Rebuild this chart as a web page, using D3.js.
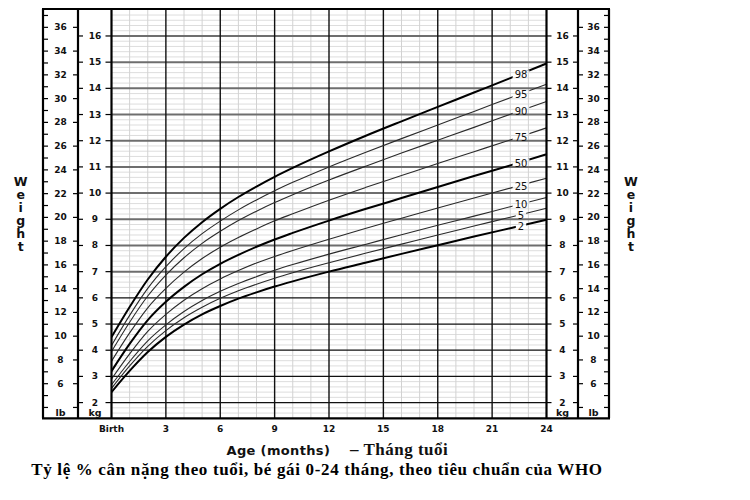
<!DOCTYPE html>
<html><head><meta charset="utf-8">
<script src="https://cdn.jsdelivr.net/npm/d3@7"></script>
<style>body{margin:0;background:#fff}svg{display:block}
.vert{writing-mode:vertical-rl;text-orientation:upright;}</style>
</head><body><svg id="c" width="750" height="500"></svg>
<script>
// ---- data ----
const months = [0,1,2,3,4,5,6,7,8,9,10,12,14,16,18,20,22,24];
const percentileNames = ["2","5","10","25","50","75","90","95","98"];
const p2  = [2.40,3.21,3.93,4.51,4.98,5.37,5.69,5.97,6.21,6.43,6.63,7.00,7.34,7.68,8.01,8.34,8.66,8.98];
const p5  = [2.54,3.40,4.15,4.75,5.24,5.64,5.98,6.27,6.52,6.75,6.96,7.34,7.70,8.05,8.40,8.74,9.08,9.42];
const p10 = [2.68,3.57,4.36,4.97,5.48,5.90,6.25,6.55,6.81,7.05,7.27,7.67,8.04,8.41,8.77,9.12,9.48,9.83];
const p25 = [2.90,3.86,4.72,5.37,5.91,6.35,6.72,7.04,7.33,7.58,7.81,8.24,8.65,9.04,9.43,9.81,10.19,10.57];
const p50 = [3.20,4.24,5.15,5.85,6.42,6.90,7.30,7.64,7.95,8.23,8.48,8.95,9.39,9.81,10.23,10.65,11.06,11.48];
const p75 = [3.58,4.66,5.62,6.36,6.98,7.50,7.93,8.30,8.63,8.94,9.21,9.73,10.21,10.67,11.13,11.58,12.03,12.49];
const p90 = [3.95,5.07,6.07,6.87,7.53,8.08,8.54,8.95,9.31,9.64,9.94,10.50,11.02,11.53,12.02,12.51,13.01,13.50];
const p95 = [4.18,5.33,6.36,7.19,7.88,8.45,8.93,9.36,9.74,10.09,10.41,11.00,11.55,12.08,12.60,13.12,13.64,14.16];
const p98 = [4.50,5.65,6.70,7.57,8.29,8.89,9.40,9.85,10.25,10.62,10.96,11.59,12.18,12.74,13.29,13.84,14.39,14.95];
const seriesValues = [p2,p5,p10,p25,p50,p75,p90,p95,p98];
const boldSeries = ["2","50","98"];

const kgTicks = [2,3,4,5,6,7,8,9,10,11,12,13,14,15,16];
const lbTickLabels = [6,8,10,12,14,16,18,20,22,24,26,28,30,32,34,36];
const monthTicks = [0,3,6,9,12,15,18,21,24];
const monthTickLabels = ["Birth","3","6","9","12","15","18","21","24"];
const xTitleEn = "Age (months)";
const xTitleVi = "– Tháng tuổi";
const yTitle = "Weight";
const chartTitle = "Tỷ lệ % cân nặng theo tuổi, bé gái 0-24 tháng, theo tiêu chuẩn của WHO";

// ---- layout ----
const X0=111.5, X1=546.5, Y0=418.3, Y1=9;
const LB_L=43, KG_L=78, KG_R=578, LB_R=609;
const x = d3.scaleLinear().domain([0,24]).range([X0,X1]);
const y = d3.scaleLinear().domain([1.4,17.03]).range([Y0,Y1]);
const LB2KG = 1/2.20462;
const yLb = lb => y(lb*LB2KG);
const sans = "'DejaVu Sans', Verdana, sans-serif";
const serif = "'Liberation Serif', 'Times New Roman', serif";

const svg = d3.select("#c");
svg.append("rect").attr("width",750).attr("height",500).attr("fill","#fff");

const grid = svg.append("g");
const minorH = d3.range(16,171,2).map(v=>v/10).filter(v=>Math.abs(v-Math.round(v))>1e-6);
grid.selectAll(".mh").data(minorH).enter().append("line")
  .attr("x1",X0).attr("x2",X1).attr("y1",d=>y(d)).attr("y2",d=>y(d))
  .attr("stroke","#dddddd").attr("stroke-width",1);
const minorV = d3.range(1,24).filter(m=>m%3!==0);
grid.selectAll(".mv").data(minorV).enter().append("line")
  .attr("x1",d=>x(d)).attr("x2",d=>x(d)).attr("y1",Y1).attr("y2",Y0)
  .attr("stroke","#d2d2d2").attr("stroke-width",1);
grid.selectAll(".MH").data(kgTicks).enter().append("line")
  .attr("x1",X0).attr("x2",X1).attr("y1",d=>y(d)).attr("y2",d=>y(d))
  .attr("stroke",d=>d<=6?"#111":"#6e6e6e").attr("stroke-width",d=>d<=6?1.3:2);
grid.selectAll(".MV").data(monthTicks.filter(m=>m>0&&m<24)).enter().append("line")
  .attr("x1",d=>x(d)).attr("x2",d=>x(d)).attr("y1",Y1).attr("y2",Y0)
  .attr("stroke","#111").attr("stroke-width",1.4);

// ---- curves ----
const labelMonth = (521-X0)/((X1-X0)/24);
function valueAt(arr,m){
  const i = Math.min(d3.bisectRight(months,m),months.length-1);
  const a=months[i-1], b=months[i];
  return arr[i-1]+(arr[i]-arr[i-1])*(m-a)/(b-a);
}
const labels = percentileNames.map((n,i)=>({name:n, yv:y(valueAt(seriesValues[i],labelMonth))+1}));

const defs = svg.append("defs");
const mask = defs.append("mask").attr("id","gapmask").attr("maskUnits","userSpaceOnUse")
  .attr("x",0).attr("y",0).attr("width",750).attr("height",500);
mask.append("rect").attr("x",0).attr("y",0).attr("width",750).attr("height",500).attr("fill","#fff");
defs.append("clipPath").attr("id","plotclip").append("rect")
  .attr("x",X0).attr("y",Y1).attr("width",X1-X0).attr("height",Y0-Y1);

const line = d3.line().x((d,i)=>x(months[i])).y(d=>y(d)).curve(d3.curveMonotoneX);
const curves = svg.append("g").attr("mask","url(#gapmask)").attr("clip-path","url(#plotclip)");
curves.selectAll("path").data(seriesValues).enter().append("path")
  .attr("d",d=>line(d)).attr("fill","none")
  .attr("stroke",(d,i)=>boldSeries.includes(percentileNames[i])?"#000":"#2a2a2a")
  .attr("stroke-width",(d,i)=>boldSeries.includes(percentileNames[i])?2:1.1);

const lblG = svg.append("g");
labels.forEach(l=>{
  const t = lblG.append("text").attr("x",521).attr("y",l.yv)
    .attr("text-anchor","middle").attr("dominant-baseline","central")
    .attr("font-family",sans).attr("font-size",10).attr("fill","#111").text(l.name);
  const bb = t.node().getBBox();
  mask.append("rect").attr("x",bb.x-2).attr("y",bb.y+1).attr("width",bb.width+4).attr("height",bb.height-2).attr("fill","#000");
});

// ---- frame ----
const frame = svg.append("g").attr("stroke","#000").attr("stroke-width",2.2);
[LB_L,KG_L,X0,X1,KG_R,LB_R].forEach(xx=>frame.append("line").attr("x1",xx).attr("x2",xx).attr("y1",Y1).attr("y2",Y0));
frame.append("line").attr("x1",LB_L-1).attr("x2",LB_R+1).attr("y1",Y1).attr("y2",Y1);
frame.append("line").attr("x1",LB_L-1).attr("x2",LB_R+1).attr("y1",Y0).attr("y2",Y0);

// ---- kg / lb columns ----
const ax = svg.append("g");
function tick(x1,x2,yy){ax.append("line").attr("x1",x1).attr("x2",x2).attr("y1",yy).attr("y2",yy).attr("stroke","#000").attr("stroke-width",1.2);}
function label(xx,yy,txt,size){ax.append("text").attr("x",xx).attr("y",yy).attr("text-anchor","middle").attr("dominant-baseline","central")
  .attr("font-family",sans).attr("font-weight","bold").attr("font-size",size||9).attr("fill","#111").text(txt);}
kgTicks.forEach(k=>{
  const yy=y(k);
  tick(KG_L,KG_L+5,yy); tick(X0-6,X0,yy); label(95,yy,k);
  tick(X1,X1+5,yy); tick(KG_R-5,KG_R,yy); label(562.5,yy,k);
});
d3.range(4,38).forEach(lb=>{
  const yy=yLb(lb);
  if(yy<Y1+3||yy>Y0-3) return;
  tick(LB_L,LB_L+5,yy); tick(LB_R-5,LB_R,yy);
  if(lb%2===0){ tick(KG_L-5,KG_L,yy); tick(KG_R,KG_R+5,yy); }
});
lbTickLabels.forEach(lb=>{ const yy=yLb(lb); label(60.5,yy,lb); label(593.5,yy,lb); });
label(60.5,412,"lb",9.5); label(95,412,"kg",9.5);
label(562.5,412,"kg",9.5); label(593.5,412,"lb",9.5);

// ---- bottom axis ----
monthTicks.forEach((m,i)=>label(x(m),429,monthTickLabels[i],9));

svg.append("text").attr("x",226.5).attr("y",454.5).attr("font-family",sans).attr("font-weight","bold")
  .attr("font-size",13).attr("letter-spacing",0.35).attr("fill","#111").text(xTitleEn);
svg.append("text").attr("x",350).attr("y",455).attr("font-family",serif).attr("font-weight","bold")
  .attr("font-size",17).attr("letter-spacing",0.5).attr("fill","#111").text(xTitleVi);
svg.append("text").attr("x",317).attr("y",474.5).attr("text-anchor","middle").attr("font-family",serif).attr("font-weight","bold")
  .attr("font-size",17).attr("letter-spacing",0.66).attr("fill","#000").text(chartTitle);

// ---- Weight vertical labels ----
[20.7,631].forEach(xx=>{
  svg.append("text").attr("class","vert").attr("x",xx).attr("y",174.3)
    .attr("font-family",sans).attr("font-weight","bold").attr("font-size",12.5)
    .attr("letter-spacing",-2.1).attr("fill","#111").text(yTitle);
});
</script></body></html>
